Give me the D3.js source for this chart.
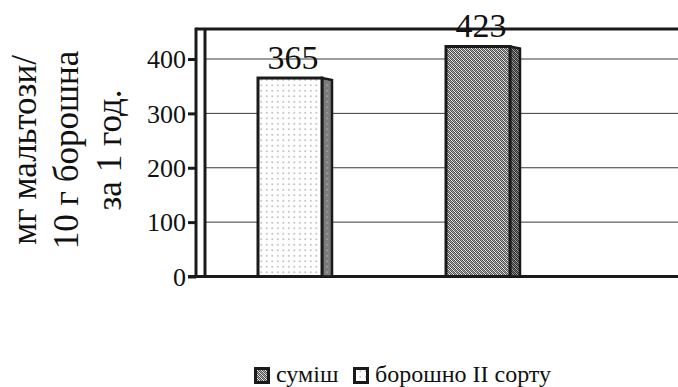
<!DOCTYPE html>
<html>
<head>
<meta charset="utf-8">
<script src="https://cdn.jsdelivr.net/npm/d3@7"></script>
<style>
  html, body { margin: 0; padding: 0; background: #fff; }
  svg { display: block; }
  text { font-family: "Liberation Serif", "Times New Roman", serif; fill: #111; }
</style>
</head>
<body>
<svg id="chart" width="678" height="387"></svg>
<script>
// Maltose content per 10 g of flour per hour
const categories = ["борошно II сорту", "суміш"];
const values = [365, 423];
const tickValues = [0, 100, 200, 300, 400];
const titleLines = ["мг мальтози/", "10 г борошна", "за 1 год."];
const legendOrder = ["суміш", "борошно II сорту"];

const svg = d3.select("#chart");
const W = 678, H = 387;
const axisX = 196;     // front vertical axis
const depth = 9;       // horizontal depth of the back wall
const barW = 64;
const sideW = 10;

const y = d3.scaleLinear().domain([0, 400]).range([276.5, 59]);
const wallTop = 455;
const x = d3.scalePoint().domain(categories).range([196, 572]).padding(0.5);

// patterns
const defs = svg.append("defs");
const dots = defs.append("pattern").attr("id", "dots")
  .attr("patternUnits", "userSpaceOnUse").attr("width", 5.5).attr("height", 5.5);
dots.append("rect").attr("width", 5.5).attr("height", 5.5).attr("fill", "#fff");
dots.append("rect").attr("x", 2).attr("y", 2).attr("width", 1.6).attr("height", 1.6).attr("fill", "#b4b4b4");

const dotsDark = defs.append("pattern").attr("id", "dotsDark")
  .attr("patternUnits", "userSpaceOnUse").attr("width", 5.5).attr("height", 5.5);
dotsDark.append("rect").attr("width", 5.5).attr("height", 5.5).attr("fill", "#7c7c7c");
dotsDark.append("rect").attr("x", 2).attr("y", 2).attr("width", 1.6).attr("height", 1.6).attr("fill", "#a4a4a4");

// fine checker with a faint diagonal grain
function checker(id, light, dark, mid) {
  const p = defs.append("pattern").attr("id", id)
    .attr("patternUnits", "userSpaceOnUse").attr("width", 4).attr("height", 4);
  p.append("rect").attr("width", 4).attr("height", 4).attr("fill", light);
  const cells = [[0,0],[2,0],[1,1],[3,1],[0,2],[2,2],[1,3],[3,3],[1,0],[2,1],[3,2],[0,3]];
  p.selectAll("rect.c").data(cells).enter().append("rect")
    .attr("class", "c")
    .attr("x", d => d[0]).attr("y", d => d[1])
    .attr("width", 1).attr("height", 1)
    .attr("fill", (d, i) => i < 8 ? dark : mid);
}
checker("check", "#eaeaea", "#505050", "#a8a8a8");
checker("checkDark", "#a4a4a4", "#303030", "#707070");

// back wall gridlines
svg.append("g").selectAll("line").data(tickValues.filter(v => v > 0)).enter()
  .append("line")
  .attr("x1", axisX + depth).attr("x2", W)
  .attr("y1", d => y(d)).attr("y2", d => y(d))
  .attr("stroke", "#3a3a3a").attr("stroke-width", 1);

// wall frame
const frame = svg.append("g").attr("stroke", "#1a1a1a").attr("stroke-width", 3).attr("fill", "none");
frame.append("line").attr("x1", axisX).attr("x2", W).attr("y1", y(wallTop)).attr("y2", y(wallTop));
frame.append("line").attr("x1", axisX + depth).attr("x2", axisX + depth).attr("y1", y(wallTop)).attr("y2", y(0));
frame.append("line").attr("x1", axisX - 8).attr("x2", W).attr("y1", y(0)).attr("y2", y(0));
frame.append("line").attr("x1", axisX).attr("x2", axisX).attr("y1", y(wallTop) - 1.5).attr("y2", y(0));

// y axis
const axis = d3.axisLeft(y).tickValues(tickValues).tickSize(8).tickPadding(2).tickFormat(d3.format("d"));
const ag = svg.append("g").attr("transform", `translate(${axisX},0)`).call(axis);
ag.select(".domain").remove();
ag.selectAll(".tick line").attr("stroke", "#1a1a1a").attr("stroke-width", 3);
ag.selectAll(".tick text")
  .style("font-family", "'Liberation Serif', 'Times New Roman', serif")
  .style("font-size", "26px").attr("fill", "#111").attr("dy", "0.34em");

// bars
const frontFill = ["url(#dots)", "url(#check)"];
const sideFill = ["url(#dotsDark)", "url(#checkDark)"];
const bars = svg.append("g").selectAll("g").data(categories).enter().append("g");
bars.append("polygon")
  .attr("points", (d, i) => {
    const x0 = x(d) - barW / 2 + barW, t = y(values[i]), b = y(0);
    return [[x0, t], [x0 + sideW, t + 2], [x0 + sideW, b], [x0, b]].join(" ");
  })
  .attr("fill", (d, i) => sideFill[i])
  .attr("stroke", "#1a1a1a").attr("stroke-width", 2.5).attr("stroke-linejoin", "miter");
bars.append("rect")
  .attr("x", d => x(d) - barW / 2)
  .attr("y", (d, i) => y(values[i]))
  .attr("width", barW)
  .attr("height", (d, i) => y(0) - y(values[i]))
  .attr("fill", (d, i) => frontFill[i])
  .attr("stroke", "#1a1a1a").attr("stroke-width", 3);

// value labels
bars.append("text")
  .attr("x", d => x(d) + sideW / 2 - 2)
  .attr("y", (d, i) => y(values[i]) - 9)
  .attr("text-anchor", "middle")
  .style("font-size", "34px")
  .text((d, i) => values[i]);

// y axis title
const title = svg.append("g").attr("transform", "translate(0,150) rotate(-90)");
const baselines = [36, 78, 121];
title.selectAll("text").data(titleLines).enter().append("text")
  .attr("x", 0).attr("y", (d, i) => baselines[i])
  .attr("text-anchor", "middle")
  .style("font-size", "35px")
  .text(d => d);

// legend
const legend = svg.append("g");
const legendX = [254, 353];
const legendFill = { "суміш": "url(#check)", "борошно II сорту": "url(#dots)" };
legendOrder.forEach((name, i) => {
  legend.append("rect")
    .attr("x", legendX[i] + 1.5).attr("y", 368.5)
    .attr("width", 13).attr("height", 14)
    .attr("fill", legendFill[name])
    .attr("stroke", "#1a1a1a").attr("stroke-width", 3);
  legend.append("text")
    .attr("x", legendX[i] + 22).attr("y", 382)
    .style("font-size", "24px")
    .text(name);
});
</script>
</body>
</html>
